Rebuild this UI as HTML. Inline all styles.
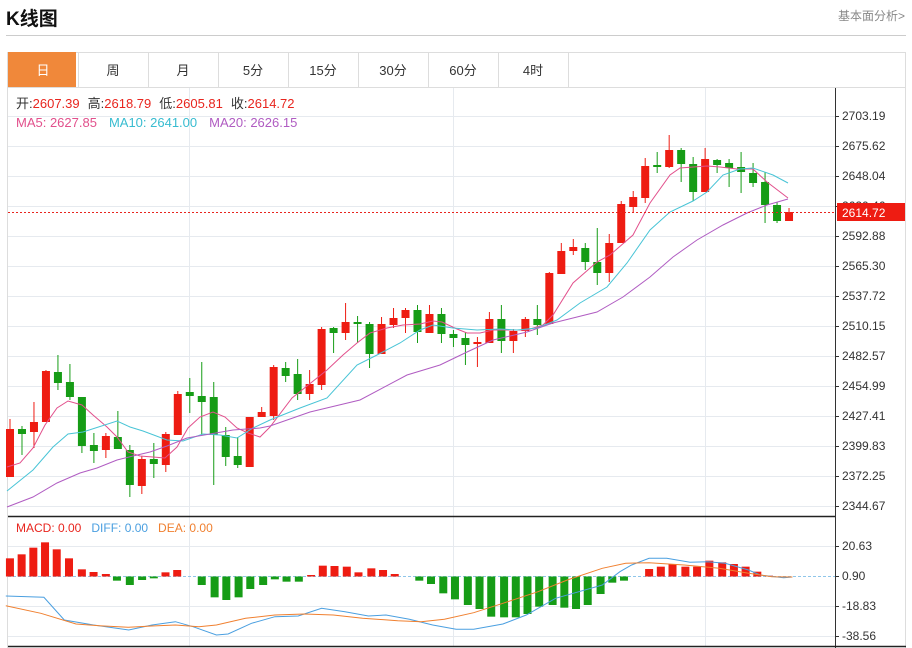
<!DOCTYPE html>
<html><head><meta charset="utf-8">
<style>
body{margin:0;background:#fff;font-family:"Liberation Sans","Noto Sans CJK SC",sans-serif;}
#w{position:relative;width:912px;height:648px;overflow:hidden;}
.t{position:absolute;white-space:nowrap;}
</style></head><body><div id="w">
<div class="t" style="left:6px;top:4px;font-size:19px;font-weight:bold;color:#111;">K线图</div>
<div class="t" style="left:838px;top:7px;font-size:12px;color:#888;">基本面分析&gt;</div>
<div style="position:absolute;left:6px;top:35px;width:900px;height:1px;background:#ccc;"></div>
<svg id="s" width="912" height="648" style="position:absolute;left:0;top:0" font-family="Liberation Sans, Noto Sans CJK SC, sans-serif"></svg>
</div>
<script>
var s=document.getElementById('s'),h='';
function L(x1,y1,x2,y2,c,w,d){h+='<line x1="'+x1+'" y1="'+y1+'" x2="'+x2+'" y2="'+y2+'" stroke="'+c+'" stroke-width="'+(w||1)+'"'+(d?' stroke-dasharray="'+d+'"':'')+'/>';}
function R(x,y,w,hh,c){h+='<rect x="'+x+'" y="'+y+'" width="'+w+'" height="'+hh+'" fill="'+c+'"/>';}
function T(x,y,t,c,sz,a){h+='<text x="'+x+'" y="'+y+'" fill="'+c+'" font-size="'+(sz||12)+'"'+(a?' text-anchor="'+a+'"':'')+'>'+t+'</text>';}
// tabs
R(7,52,899,35,'#fff');L(7,52.5,906,52.5,'#ddd');L(7,87.5,906,87.5,'#ddd');
var tabs=['日','周','月','5分','15分','30分','60分','4时'];
R(8,52,68,35,'#f0883a');
for(var i=0;i<8;i++){var x=8+70*i;T(x+35,75,tabs[i],i==0?'#fff':'#333',13,'middle');L(x+70.5,52,x+70.5,87,'#ddd');}
L(7.5,52,7.5,648,'#ddd');L(905.5,52,905.5,648,'#ddd');
// grid
var labs=['2703.19','2675.62','2648.04','2620.46','2592.88','2565.30','2537.72','2510.15','2482.57','2454.99','2427.41','2399.83','2372.25','2344.67'];
for(i=0;i<14;i++){var y=116+30*i;L(8,y+.5,835,y+.5,'#e6eaef');L(835,y+.5,839,y+.5,'#333');T(842,y+4,labs[i],'#333',12);}
[189,453,705].forEach(function(x){L(x+.5,88,x+.5,516,'#e6eaef');L(x+.5,517,x+.5,646,'#e6eaef');});
L(835.5,88,835.5,648,'#333');
// candles [x? idx, open, close, high, low] in y px; r=red
var C=[['r',477,429,419,477],['g',429,434,426,455],['r',432,422,402,448],['r',422,371,370,422],['g',372,383,355,390],['g',382,397,364,400],['g',397,446,397,453],['g',445,451,433,463],['r',450,436,433,458],['g',437,449,411,449],['g',450,485,445,497],['r',486,459,456,494],['g',459,464,443,478],['r',465,434,432,472],['r',435,394,391,435],['g',392,396,378,413],['g',396,402,362,435],['g',397,435,382,485],['g',435,457,427,466],['g',456,465,437,468],['r',467,417,417,467],['r',417,412,407,417],['r',416,367,365,420],['g',368,376,362,382],['g',374,394,359,400],['r',394,384,370,400],['r',385,329,327,390],['g',328,333,327,353],['r',333,322,303,340],['g',322,324,316,343],['g',324,354,322,368],['r',354,324,317,354],['r',325,318,308,328],['r',318,310,308,333],['g',310,332,305,343],['r',333,314,305,333],['g',314,334,308,343],['g',334,338,330,347],['g',338,345,332,365],['r',344,342,337,367],['r',343,319,312,343],['g',319,341,305,353],['r',341,331,329,353],['r',331,319,317,337],['g',319,325,305,335],['r',324,273,272,324],['r',274,251,243,274],['r',251,247,239,255],['g',248,262,243,270],['g',262,273,228,285],['r',273,243,234,282],['r',243,204,201,243],['r',207,197,191,212],['r',198,166,158,203],['g',165,167,152,173],['r',167,150,135,168],['g',150,164,148,182],['g',164,192,157,201],['r',192,159,148,192],['g',160,165,159,173],['g',163,168,159,187],['g',167,172,152,193],['g',173,183,163,187],['g',182,205,172,223],['g',205,221,202,223],['r',221,212,208,221]];
var RED='#ee1c12',GRN='#169c16';
for(i=0;i<C.length;i++){var c=C[i],x=10+11.985*i,col=c[0]=='r'?RED:GRN;
L(x,c[3],x,c[4],col,1);var t=Math.min(c[1],c[2]),b=Math.max(c[1],c[2]);R(x-4,t,8,Math.max(b-t,1.5),col);}
function P(pts,col,w){h+='<polyline fill="none" stroke="'+col+'" stroke-width="'+(w||1)+'" points="'+pts.map(function(p){return p.join(',')}).join(' ')+'"/>';}
P([[7,467],[20,463],[33,448],[45,425],[57,408],[68,401],[82,405],[93,415],[107,427],[117,437],[128,452],[140,456],[153,457],[165,458],[177,447],[188,428],[200,417],[213,412],[225,417],[237,428],[248,433],[260,437],[270,427],[292,398],[327,370],[343,355],[357,343],[370,333],[387,328],[403,325],[420,324],[433,321],[442,322],[457,329],[467,333],[480,333],[493,330],[510,330],[527,330],[543,325],[553,315],[573,283],[597,262],[610,255],[633,235],[650,203],[670,175],[680,168],[707,166],[720,167],[737,169],[753,169],[767,182],[788,198]],'#e2508c');
P([[7,491],[33,470],[53,447],[68,434],[83,432],[117,421],[130,427],[143,431],[167,440],[183,441],[203,434],[220,435],[237,438],[253,428],[270,420],[300,408],[327,398],[357,365],[377,355],[400,343],[420,330],[433,325],[453,328],[477,330],[500,329],[517,330],[537,328],[557,320],[580,303],[607,287],[627,263],[650,230],[670,212],[693,201],[707,192],[723,175],[740,169],[753,168],[773,175],[788,183]],'#48c4d6');
P([[7,507],[33,497],[57,483],[80,473],[97,468],[117,460],[133,456],[150,452],[167,446],[187,438],[210,434],[233,430],[260,428],[270,426],[310,412],[360,400],[407,375],[440,365],[467,352],[493,340],[527,332],[553,323],[573,318],[597,312],[623,297],[650,277],[673,257],[697,240],[723,225],[747,213],[767,205],[788,199]],'#b05cc2');
// last price
L(8,212.5,835,212.5,'#e8251e',1,'2,2');
R(837,203,68,18,'#ee1c12');T(842,217,'2614.72','#fff',12);
// info
h+='<text x="16" y="108" font-size="13"><tspan fill="#333">开:</tspan><tspan fill="#e8251e">2607.39</tspan><tspan fill="#333" dx="8">高:</tspan><tspan fill="#e8251e">2618.79</tspan><tspan fill="#333" dx="8">低:</tspan><tspan fill="#e8251e">2605.81</tspan><tspan fill="#333" dx="8">收:</tspan><tspan fill="#e8251e">2614.72</tspan></text>';
h+='<text x="16" y="127" font-size="13"><tspan fill="#e2508c">MA5: 2627.85</tspan><tspan fill="#38bcd0" dx="12">MA10: 2641.00</tspan><tspan fill="#b05cc2" dx="12">MA20: 2626.15</tspan></text>';
// MACD panel
L(8,516.5,835,516.5,'#222',1.5);L(8,646.5,906,646.5,'#222',1.5);
var ml=[['20.63',546],['0.90',576],['-18.83',606],['-38.56',636]];
ml.forEach(function(m,k){if(k!=1)L(8,m[1]+.5,835,m[1]+.5,'#e6eaef');L(835,m[1]+.5,839,m[1]+.5,'#333');T(842,m[1]+4,m[0],'#333',12);});
L(8,576.5,835,576.5,'#8fc6ea',1,'3,2');
h+='<text x="16" y="532" font-size="12"><tspan fill="#e8251e">MACD: 0.00</tspan><tspan fill="#4a9fe0" dx="10">DIFF: 0.00</tspan><tspan fill="#f08030" dx="10">DEA: 0.00</tspan></text>';
var B=[[17,145],[37,133],[57,113],[77,97],[97,118],[118,145],[140,178],[160,186],[181,192],[200,212],[222,225],[243,210],[263,205],[283,187],[303,180],[345,225],[367,262],[387,270],[408,262],[428,237],[450,225],[470,208],[490,215],[511,215],[532,195],[552,167],[572,168],[593,170],[613,187],[635,175],[655,180],[675,192],[717,212],[737,222],[758,250],[778,268],[800,285],[820,297],[840,320],[862,322],[882,322],[902,312],[922,290],[945,285],[965,293],[985,297],[1005,285],[1027,252],[1047,218],[1067,212],[1110,177],[1130,170],[1150,163],[1172,170],[1192,170],[1213,152],[1235,157],[1255,162],[1275,170],[1295,185],[1315,197]];
B.forEach(function(b){var x=b[0]/1.71,y=510+b[1]/3,z=576.5;if(y<z)R(x-4,y,8,z-y,RED);else R(x-4,z,8,y-z,GRN);});
function M(a){return a.map(function(p){return [(p[0]/1.71).toFixed(1),(510+p[1]/3).toFixed(1)]});}
P(M([[10,258],[75,262],[110,330],[160,345],[220,360],[260,345],[300,335],[330,350],[370,375],[390,372],[430,340],[470,320],[510,318],[550,295],[590,305],[630,318],[660,315],[700,328],[740,345],[780,358],[810,358],[860,342],[900,315],[950,265],[990,245],[1030,225],[1060,185],[1080,165],[1110,145],[1140,145],[1180,157],[1210,155],[1240,160],[1280,180],[1300,195],[1340,203],[1355,201]]),'#4a9fe0');
P(M([[10,287],[70,310],[130,342],[170,347],[220,352],[260,348],[300,345],[340,350],[370,345],[420,325],[470,315],[520,312],[570,315],[620,325],[680,332],[720,335],[760,328],[810,308],[860,280],[920,245],[970,210],[1030,175],[1070,160],[1110,158],[1170,165],[1230,175],[1280,190],[1320,200],[1355,201]]),'#f08030');
s.innerHTML=h;
</script>
</body></html>
